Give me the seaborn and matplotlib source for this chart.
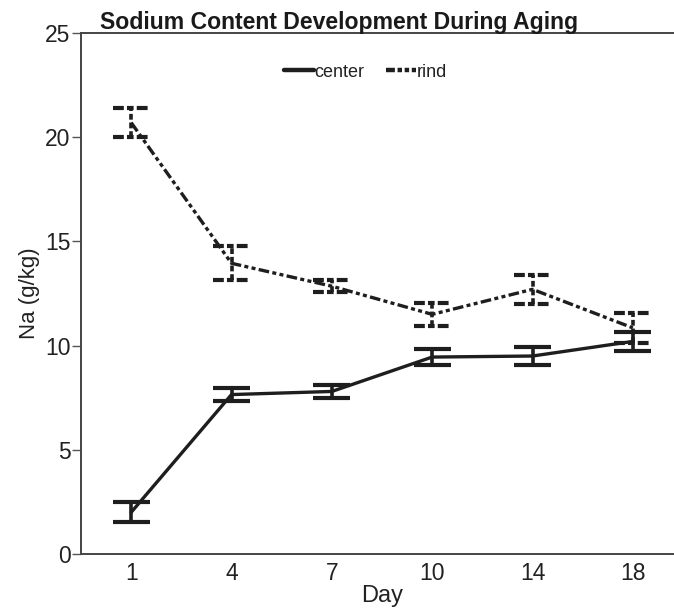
import numpy as np
import pandas as pd
import matplotlib
matplotlib.use("Agg")
import matplotlib.pyplot as plt
import seaborn as sns
from matplotlib.lines import Line2D

days = ["1", "4", "7", "10", "14", "18"]
center_mean = [2.0, 7.65, 7.8, 9.45, 9.5, 10.2]
center_err = [0.48, 0.3, 0.33, 0.38, 0.43, 0.45]
rind_mean = [20.7, 13.95, 12.85, 11.5, 12.7, 10.85]
rind_err = [0.68, 0.82, 0.28, 0.55, 0.7, 0.72]

sns.set_style("ticks")
plt.rcParams["font.family"] = ["Liberation Sans", "DejaVu Sans"]

df = pd.DataFrame({
    "Day": days * 2,
    "Na": center_mean + rind_mean,
    "Part": ["center"] * len(days) + ["rind"] * len(days),
})

ink = "#1e1e1e"
rind_dash = (3.2, 1.0, 1.2, 1.0, 1.2, 1.0)

fig = plt.figure(figsize=(6.74, 6.09), dpi=100)
ax = fig.add_axes([81 / 674, 55 / 609, 602 / 674, 521 / 609])

sns.lineplot(data=df, x="Day", y="Na", style="Part", sort=False,
             dashes={"center": "", "rind": rind_dash},
             color=ink, linewidth=2.4, ax=ax, legend=False)

xs = np.arange(len(days))
half = 0.185
for mean, err, dashed in [(center_mean, center_err, False), (rind_mean, rind_err, True)]:
    mean = np.array(mean)
    err = np.array(err)
    lo, hi = mean - err, mean + err
    ls = (0, (1.6, 0.8)) if dashed else "-"
    ax.vlines(xs, lo, hi, colors=ink, linewidth=2.6, linestyles=ls)
    cap_ls = (0, (2.6, 0.75, 1.6, 0.75)) if dashed else "-"
    ax.hlines(np.concatenate([lo, hi]), np.concatenate([xs, xs]) - half,
              np.concatenate([xs, xs]) + half, colors=ink, linewidth=3.0,
              linestyles=cap_ls)

ax.set_xlim(-0.5, 5.5)
ax.set_ylim(0, 25)
ax.set_yticks([0, 5, 10, 15, 20, 25])
ax.set_xticks(xs)
ax.set_xticklabels(days)
ax.tick_params(axis="y", length=6.5, width=1, color="#555555", labelsize=16.5, pad=1,
               labelcolor="#222222")
ax.tick_params(axis="x", length=0, labelsize=16.5, pad=6, labelcolor="#222222")
for s in ["left", "bottom", "top"]:
    ax.spines[s].set_color("#444444")
    ax.spines[s].set_linewidth(1.4)
ax.spines["right"].set_visible(False)

ax.set_xlabel("Day", fontsize=17, labelpad=0, color="#222222")
ax.set_ylabel("Na (g/kg)", fontsize=16, labelpad=4, color="#222222")

handles = [Line2D([], [], color=ink, linewidth=3.2, linestyle="-"),
           Line2D([], [], color=ink, linewidth=3.2, linestyle=(0, (2.0, 0.6, 1.0, 0.6, 1.0, 0.6)))]
ax.legend(handles, ["center", "rind"], loc="center", bbox_to_anchor=(0.4726, 0.925),
          ncol=2, frameon=False, fontsize=13, handlelength=1.66, handletextpad=0.05,
          columnspacing=1.2, labelcolor="#222222")

fig.text(100 / 674, 1 - 29 / 609, "Sodium Content Development During Aging",
         fontsize=16.6, fontweight="bold", ha="left", va="baseline", color="#1a1a1a")

fig.savefig("out.png", dpi=100)
